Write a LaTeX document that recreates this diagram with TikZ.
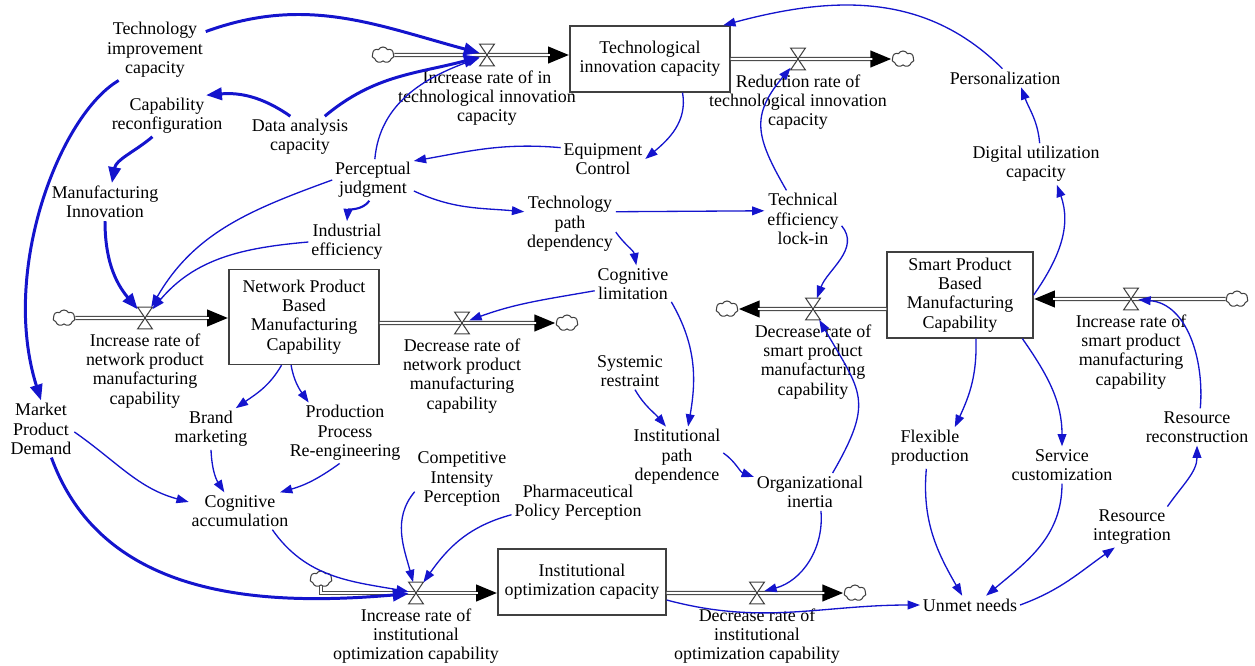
\documentclass[tikz,border=0pt]{standalone}
\usepackage{fontspec}
\setmainfont{Liberation Serif}
\usetikzlibrary{arrows.meta, positioning, shapes.symbols}
\definecolor{arcblue}{RGB}{20,20,205}

\begin{document}
\begin{tikzpicture}[x=0.02cm, y=0.02cm,
    font=\fontsize{10.2}{11}\selectfont,
    aux/.style={align=center, inner sep=1.5pt},
    stock/.style={draw=black!75, line width=0.8pt, fill=white, align=center, inner sep=2pt},
    cloudy/.style={cloud, cloud puffs=7, cloud puff arc=120, aspect=1.4, draw=black!75, fill=white,
        line width=0.6pt, inner sep=0pt, minimum width=0.44cm, minimum height=0.32cm},
    valve/.style={minimum width=0.28cm, minimum height=0.42cm, inner sep=0pt},
    pipe/.style={draw=black!70, line width=2.4pt, -{Triangle[length=12pt,width=9pt,color=black]},
        postaction={draw=white, line width=0.9pt, -, shorten >=11pt}},
    link/.style={draw=arcblue, line width=0.75pt, -{Triangle[length=7pt,width=5pt]}},
    heavy/.style={link, line width=1.7pt, -{Triangle[length=9pt,width=7pt]}}
]
\useasboundingbox (0,0) rectangle (1255,-666);

% levels
\node[stock, minimum width=3.2cm, minimum height=1.32cm] (tic) at (650,-59) {Technological\\innovation capacity};
\node[stock, minimum width=3.0cm, minimum height=1.9cm] (npb) at (304,-317) {Network Product\\Based\\Manufacturing\\Capability};
\node[stock, minimum width=2.92cm, minimum height=1.72cm] (spb) at (960,-295) {Smart Product\\Based\\Manufacturing\\Capability};
\node[stock, minimum width=3.36cm, minimum height=1.32cm] (ioc) at (582,-582) {Institutional\\optimization capacity};

% rates
\node[valve] (vTin) at (487,-55) {};
\node[valve] (vTout) at (798,-59) {};
\node[valve] (vNin) at (145,-318) {};
\node[valve] (vNout) at (462,-323) {};
\node[valve] (vSout) at (813,-309) {};
\node[valve] (vSin) at (1131,-299) {};
\node[valve] (vIin) at (416,-593) {};
\node[valve] (vIout) at (757,-593) {};

\node[aux, below=1pt of vTin] (rTin) {Increase rate of in\\technological innovation\\capacity};
\node[aux, below=1pt of vTout] (rTout) {Reduction rate of\\technological innovation\\capacity};
\node[aux, below=1pt of vNin] (rNin) {Increase rate of\\network product\\manufacturing\\capability};
\node[aux, below=1pt of vNout] (rNout) {Decrease rate of\\network product\\manufacturing\\capability};
\node[aux, below=1pt of vSout] (rSout) {Decrease rate of\\smart product\\manufacturing\\capability};
\node[aux, below=1pt of vSin] (rSin) {Increase rate of\\smart product\\manufacturing\\capability};
\node[aux, below=1pt of vIin] (rIin) {Increase rate of\\institutional\\optimization capability};
\node[aux, below=1pt of vIout] (rIout) {Decrease rate of\\institutional\\optimization capability};

% sources and sinks
\node[cloudy] (cTin) at (383,-55) {};
\node[cloudy] (cTout) at (903,-59) {};
\node[cloudy] (cNin) at (64,-318) {};
\node[cloudy] (cNout) at (567,-323) {};
\node[cloudy] (cSout) at (727,-309) {};
\node[cloudy] (cSin) at (1237,-299) {};
\node[cloudy] (cIin) at (321,-579) {};
\node[cloudy] (cIout) at (855,-593) {};

% auxiliaries
\node[aux] (techimp) at (155,-50) {Technology\\improvement\\capacity};
\node[aux] (caprec) at (167,-116) {Capability\\reconfiguration};
\node[aux] (data) at (300,-137) {Data analysis\\capacity};
\node[aux] (manin) at (105,-202) {Manufacturing\\Innovation};
\node[aux] (perc) at (373,-180) {Perceptual\\judgment};
\node[aux] (equip) at (603,-159) {Equipment\\Control};
\node[aux] (indeff) at (347,-242) {Industrial\\efficiency};
\node[aux] (tpd) at (570,-224) {Technology\\path\\dependency};
\node[aux] (telock) at (803,-219) {Technical\\efficiency\\lock-in};
\node[aux] (pers) at (1005,-78) {Personalization};
\node[aux] (digit) at (1036,-164) {Digital utilization\\capacity};
\node[aux] (coglim) at (633,-284) {Cognitive\\limitation};
\node[aux] (sysres) at (630,-371) {Systemic\\restraint};
\node[aux] (ipd) at (677,-457) {Institutional\\path\\dependence};
\node[aux] (orgin) at (810,-492) {Organizational\\inertia};
\node[aux] (market) at (41,-429) {Market\\Product\\Demand};
\node[aux] (brand) at (211,-429) {Brand\\marketing};
\node[aux] (ppr) at (345,-433) {Production\\Process\\Re-engineering};
\node[aux] (cogacc) at (240,-511) {Cognitive\\accumulation};
\node[aux] (comp) at (462,-479) {Competitive\\Intensity\\Perception};
\node[aux] (pharm) at (578,-503) {Pharmaceutical\\Policy Perception};
\node[aux] (flex) at (930,-448) {Flexible\\production};
\node[aux] (serv) at (1062,-465) {Service\\customization};
\node[aux] (resrec) at (1197,-427) {Resource\\reconstruction};
\node[aux] (resint) at (1132,-527) {Resource\\integration};
\node[aux] (unmet) at (970,-605) {Unmet needs};

% flow pipes
\draw[pipe] (cTin.east) -- (vTin -| tic.west);
\draw[pipe] (tic.east |- vTout) -- (cTout.west);
\draw[pipe] (cNin.east) -- (vNin -| npb.west);
\draw[pipe] (npb.east |- vNout) -- (cNout.west);
\draw[pipe] (spb.west |- vSout) -- (cSout.east);
\draw[pipe] (cSin.west) -- (vSin -| spb.east);
\draw[pipe] (cIin.south) |- (vIin -| ioc.west);
\draw[pipe] (ioc.east |- vIout) -- (cIout.west);
\foreach \v in {vTin, vTout, vNin, vNout, vSout, vSin, vIin, vIout}
    \draw[black!75, fill=white, line width=0.6pt] (\v.north west) -- (\v.north east) -- (\v.south west) -- (\v.south east) -- cycle;

% causal links
\draw[heavy] (techimp) to[out=20, in=165] (vTin);
\draw[heavy] (data) to[out=40, in=195] (vTin);
\draw[heavy] (data.115) to[out=145, in=5] (caprec.28);
\draw[heavy] (caprec.-125) to[out=220, in=80] (manin.70);
\draw[heavy] (manin) to[out=270, in=130] (vNin);
\draw[heavy] (techimp.220) .. controls (60,-115) and (0,-270) .. (market.north);
\draw[heavy] (market) to[out=290, in=185] (vIin);
\draw[link, line width=1.2pt] (perc.-100) to[out=235, in=85] (indeff.north);

\draw[link] (perc) to[out=85, in=200] (vTin);
\draw[link] (tic.-46) to[out=-80, in=40] (equip.east);
\draw[link] (equip.165) to[out=175, in=10] (perc.25);
\draw[link] (perc.west) to[out=200, in=60] (vNin);
\draw[link] (indeff.west) to[out=185, in=50] (vNin);
\draw[link] (perc.-15) to[out=-25, in=175] (tpd.165);
\draw[link] (tpd.15) -- (telock.168);
\draw[link] (tpd.-10) to[out=-55, in=100] (coglim.80);
\draw[link] (telock.120) to[out=120, in=230, looseness=1.3] (vTout);
\draw[link] (telock.-10) to[out=-50, in=70] (vSout);
\draw[link] (pers.105) to[out=135, in=15] ([xshift=-0.15cm]tic.north east);
\draw[link] (digit.80) to[out=95, in=-70] (pers.-30);
\draw[link] (spb.east) to[out=55, in=-70] (digit.-45);
\draw[link] (coglim.190) to[out=190, in=20] (vNout);
\draw[link] (coglim.-25) to[out=-60, in=80] (ipd.70);
\draw[link] (sysres.-75) to[out=-60, in=130] (ipd.110);
\draw[link] (ipd.5) to[out=-35, in=160] (orgin.165);
\draw[link] (orgin.40) to[out=60, in=-60, looseness=1.4] (vSout);
\draw[link] (orgin.-60) to[out=-85, in=15] (vIout);
\draw[link] (npb.245) to[out=-120, in=35] (brand.40);
\draw[link] (npb.255) to[out=-80, in=125] (ppr.140);
\draw[link] (brand.south) to[bend right=15] (cogacc.130);
\draw[link] (ppr.-100) to[bend left=10] (cogacc.25);
\draw[link] (market.-5) to[out=-35, in=165] (cogacc.170);
\draw[link] (cogacc.-30) to[out=-55, in=170] (vIin);
\draw[link] (comp.195) to[out=-130, in=105] (vIin);
\draw[link] (pharm.190) to[out=195, in=55] (vIin);
\draw[link] (ioc.-12) to[out=-15, in=180] (unmet.west);
\draw[link] (flex.-100) to[out=-95, in=120] (unmet.130);
\draw[link] (serv.south) to[out=-90, in=40] (unmet.30);
\draw[link] (unmet.east) to[out=20, in=-145] (resint.-130);
\draw[link] (resint.30) to[out=55, in=-90] (resrec.south);
\draw[link] (resrec.80) to[out=85, in=-5] (vSin);
\draw[link] (spb.-70) to[out=-88, in=65] (flex.40);
\draw[link] (spb.-35) to[out=-55, in=90] (serv.north);
\end{tikzpicture}
\end{document}
